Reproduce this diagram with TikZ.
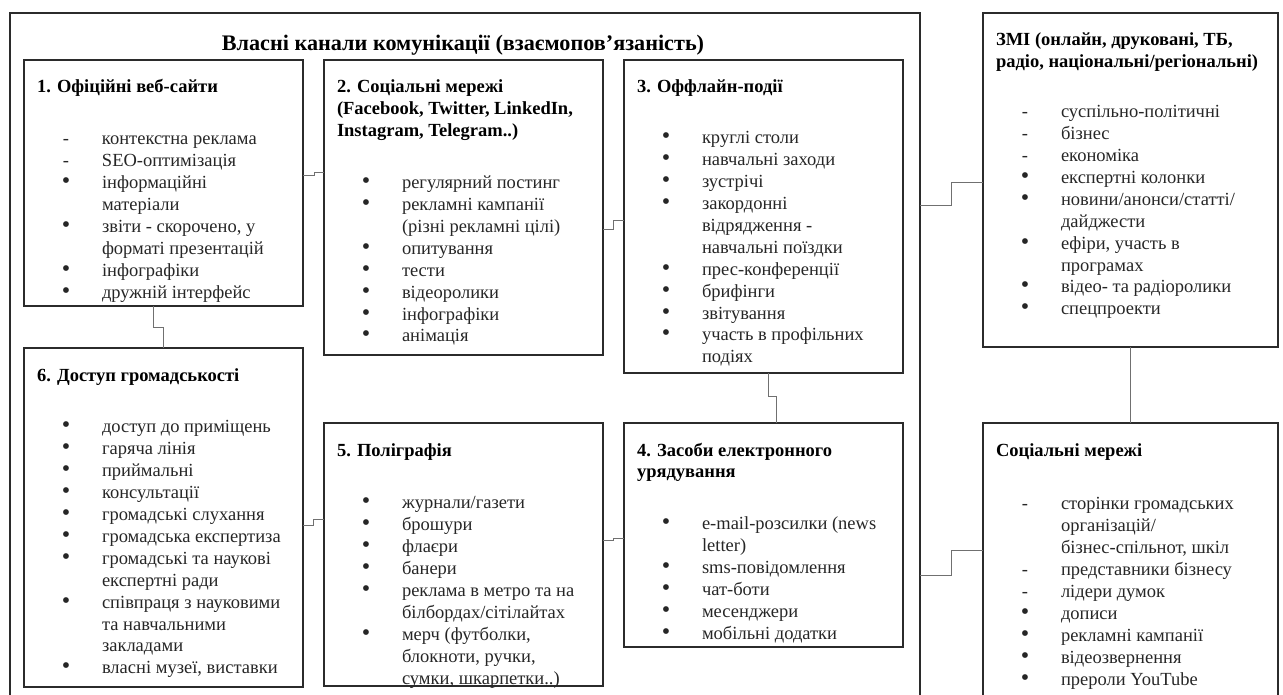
\documentclass[tikz,border=0pt]{standalone}
\usepackage{fontspec}
\usepackage{graphicx}
\setmainfont{Liberation Serif}
\usetikzlibrary{calc}

\definecolor{boxline}{HTML}{2B2B2B}
\definecolor{linkline}{HTML}{707070}
\definecolor{itemtext}{HTML}{262626}

% list items: marker, then text with hanging indent
\newcommand{\chitem}[2]{\par\hangindent=65pt\hangafter=1\noindent\makebox[65pt][l]{\hspace{25pt}\makebox[8pt]{#1}}#2}
\newcommand{\chdash}{\chitem{-}}
\newcommand{\chbul}{\chitem{\scalebox{1.3}{\textbullet}}}
% box text: width, height, heading, gap, items
\newcommand{\chanbox}[5]{\begin{minipage}[t][#2pt][t]{#1pt}\fontsize{18.5}{21.9}\selectfont\raggedright\let\\\newline\leftskip=13pt\parindent=0pt
\rule{0pt}{33pt}\textbf{#3}\par\vspace{#4pt}{\color{itemtext}#5\par}\end{minipage}}

\begin{document}
\begin{tikzpicture}[x=1pt, y=-1pt,
  chan/.style={draw=boxline, line width=1.3pt, inner sep=0pt, outer sep=0pt, anchor=north west},
  link/.style={draw=linkline, line width=1pt},
  heading/.style={font=\fontsize{22.2}{26}\selectfont\bfseries}]
\useasboundingbox (0,0) rectangle (1283,695);
\clip (0,0) rectangle (1283,695);

% own channels
\node[chan, minimum width=910pt, minimum height=720pt] (own) at (10,13) {};
\node[heading] (owntitle) at (463,45) {Власні канали комунікації (взаємопов’язаність)};

\node[chan] (web) at (24,60) {\chanbox{279}{246}{1. Офіційні веб-сайти}{30}{%
  \chdash{контекстна реклама}
  \chdash{SEO-оптимізація}
  \chbul{інформаційні\\матеріали}
  \chbul{звіти - скорочено, у\\форматі презентацій}
  \chbul{інфографіки}
  \chbul{дружній інтерфейс}}};

\node[chan] (smm) at (324,60) {\chanbox{279}{295}{2. Соціальні мережі\\(Facebook, Twitter, LinkedIn,\\Instagram, Telegram..)}{30}{%
  \chbul{регулярний постинг}
  \chbul{рекламні кампанії\\(різні рекламні цілі)}
  \chbul{опитування}
  \chbul{тести}
  \chbul{відеоролики}
  \chbul{інфографіки}
  \chbul{анімація}}};

\node[chan] (off) at (624,60) {\chanbox{279}{313}{3. Оффлайн-події}{29}{%
  \chbul{круглі столи}
  \chbul{навчальні заходи}
  \chbul{зустрічі}
  \chbul{закордонні\\відрядження -\\навчальні поїздки}
  \chbul{прес-конференції}
  \chbul{брифінги}
  \chbul{звітування}
  \chbul{участь в профільних\\подіях}}};

\node[chan] (pub) at (24,348) {\chanbox{279}{339}{6. Доступ громадськості}{30}{%
  \chbul{доступ до приміщень}
  \chbul{гаряча лінія}
  \chbul{приймальні}
  \chbul{консультації}
  \chbul{громадські слухання}
  \chbul{громадська експертиза}
  \chbul{громадські та наукові\\експертні ради}
  \chbul{співпраця з науковими\\та навчальними\\закладами}
  \chbul{власні музеї, виставки}}};

\node[chan] (pol) at (324,423) {\chanbox{279}{263}{5. Поліграфія}{31}{%
  \chbul{журнали/газети}
  \chbul{брошури}
  \chbul{флаєри}
  \chbul{банери}
  \chbul{реклама в метро та на\\білбордах/сітілайтах}
  \chbul{мерч (футболки,\\блокноти, ручки,\\сумки, шкарпетки..)}}};

\node[chan] (egov) at (624,423) {\chanbox{279}{224}{4. Засоби електронного\\урядування}{30}{%
  \chbul{e-mail-розсилки (news\\letter)}
  \chbul{sms-повідомлення}
  \chbul{чат-боти}
  \chbul{месенджери}
  \chbul{мобільні додатки}}};

% outside channels
\node[chan] (zmi) at (983,13) {\chanbox{295}{334}{ЗМІ (онлайн, друковані, ТБ,\\радіо, національні/регіональні)}{28}{%
  \chdash{суспільно-політичні}
  \chdash{бізнес}
  \chdash{економіка}
  \chbul{експертні колонки}
  \chbul{новини/анонси/статті/\\дайджести}
  \chbul{ефіри, участь в\\програмах}
  \chbul{відео- та радіоролики}
  \chbul{спецпроекти}}};

\node[chan] (smr) at (983,423) {\chanbox{295}{300}{Соціальні мережі}{32}{%
  \chdash{сторінки громадських\\організацій/\\бізнес-спільнот, шкіл}
  \chdash{представники бізнесу}
  \chdash{лідери думок}
  \chbul{дописи}
  \chbul{рекламні кампанії}
  \chbul{відеозвернення}
  \chbul{прероли YouTube}}};

% links
\draw[link] ([yshift=7pt]web.east) -- ++(11,0) |- ([yshift=34.5pt]smm.west);
\draw[link] ([yshift=-22.5pt]smm.east) -- ++(10,0) |- ([yshift=-4.5pt]off.west);
\draw[link] ([xshift=-10.5pt]web.south) -- ++(0,21) -| (pub.north);
\draw[link] ([yshift=-7.5pt]pub.east) -- ++(10,0) |- ([yshift=35.5pt]pol.west);
\draw[link] ([yshift=14.5pt]pol.east) -- ++(10,0) |- ([yshift=-3pt]egov.west);
\draw[link] ([xshift=4.5pt]off.south) -- ++(0,23) -| ([xshift=12.5pt]egov.north);
\draw[link] ([yshift=167pt]own.east) -- ++(31,0) |- ([yshift=-3pt]zmi.west);
\draw[link] ([yshift=-202pt]own.east) -- ++(31,0) |- ([yshift=23pt]smr.west);
\draw[link] (zmi.south) -- (smr.north);
\end{tikzpicture}
\end{document}
